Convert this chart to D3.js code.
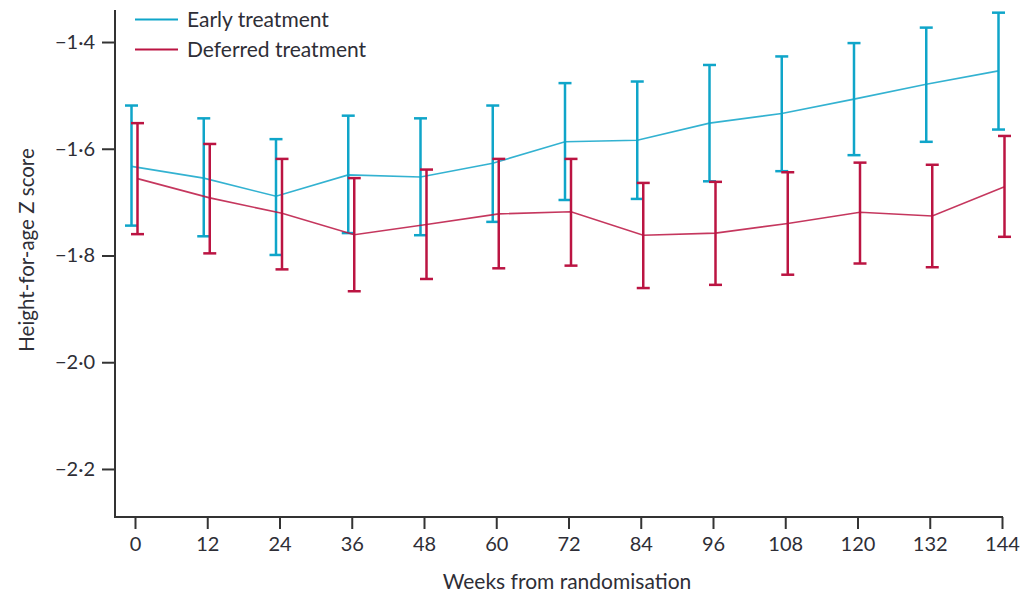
<!DOCTYPE html>
<html>
<head>
<meta charset="utf-8">
<script src="https://cdn.jsdelivr.net/npm/d3@7"></script>
<style>
  body { margin: 0; background: #fff; }
  svg text { font-family: Lato, "Open Sans", sans-serif; fill: #2e2e36; }
</style>
</head>
<body>
<svg width="1027" height="595"></svg>
<script>
const width = 1027;
const height = 595;

const weeks = [0, 12, 24, 36, 48, 60, 72, 84, 96, 108, 120, 132, 144];

// Early treatment: mean and 95% CI
const earlyMean  = [-1.633, -1.655, -1.689, -1.649, -1.653, -1.627, -1.587, -1.584, -1.552, -1.534, -1.507, -1.479, -1.454];
const earlyLower = [-1.744, -1.764, -1.799, -1.758, -1.762, -1.737, -1.696, -1.694, -1.661, -1.642, -1.612, -1.587, -1.564];
const earlyUpper = [-1.519, -1.543, -1.582, -1.538, -1.543, -1.519, -1.477, -1.474, -1.443, -1.427, -1.402, -1.373, -1.345];

// Deferred treatment
const deferMean  = [-1.656, -1.692, -1.721, -1.761, -1.742, -1.722, -1.718, -1.762, -1.758, -1.740, -1.719, -1.726, -1.671];
const deferLower = [-1.760, -1.796, -1.826, -1.867, -1.844, -1.824, -1.819, -1.861, -1.855, -1.836, -1.815, -1.822, -1.765];
const deferUpper = [-1.552, -1.591, -1.619, -1.655, -1.639, -1.619, -1.619, -1.664, -1.662, -1.644, -1.626, -1.630, -1.576];

const yTicks = [-1.4, -1.6, -1.8, -2.0, -2.2];

const blue = "#0fa5c9";
const red = "#bb1442";

const svg = d3.select("svg");

const x = d3.scaleLinear().domain([0, 144]).range([135, 1002]);
const y = d3.scaleLinear().domain([-2.29, -1.34]).range([517, 10]);

const axisLeft = 115;
const axisBottom = 517;

const fmt = v => (v < 0 ? "\u2212" : "") + Math.abs(v).toFixed(1).replace(".", "\u00b7");

// ---------- axes ----------
const gy = svg.append("g").attr("transform", `translate(${axisLeft},0)`)
    .call(d3.axisLeft(y).tickValues(yTicks).tickSize(13).tickPadding(7).tickFormat(fmt));
gy.select(".domain").remove();
gy.selectAll(".tick line").attr("stroke", "#333").attr("stroke-width", 2);
gy.selectAll(".tick text").attr("font-size", 20).attr("fill", "#2e2e36");

const gx = svg.append("g").attr("transform", `translate(0,${axisBottom})`)
    .call(d3.axisBottom(x).tickValues(weeks).tickSize(12).tickPadding(8));
gx.select(".domain").remove();
gx.selectAll(".tick line").attr("stroke", "#333").attr("stroke-width", 2);
gx.selectAll(".tick text").attr("font-size", 20).attr("fill", "#2e2e36");

svg.append("path")
    .attr("d", `M${axisLeft},10V${axisBottom}H${x(144) + 1}`)
    .attr("fill", "none")
    .attr("stroke", "#333")
    .attr("stroke-width", 2);

svg.append("text")
    .attr("x", 567).attr("y", 589)
    .attr("text-anchor", "middle")
    .attr("font-size", 21)
    .text("Weeks from randomisation");

svg.append("text")
    .attr("transform", "translate(34,250) rotate(-90)")
    .attr("text-anchor", "middle")
    .attr("font-size", 20.5)
    .text("Height-for-age Z score");

// ---------- series ----------
const series = [
    { name: "Early treatment", color: blue, dx: -3.5, mean: earlyMean, lo: earlyLower, hi: earlyUpper },
    { name: "Deferred treatment", color: red, dx: 2.5, mean: deferMean, lo: deferLower, hi: deferUpper }
];

series.forEach(s => {
    const pts = weeks.map((w, i) => ({ w, m: s.mean[i], lo: s.lo[i], hi: s.hi[i] }));

    svg.append("path")
        .datum(pts)
        .attr("fill", "none")
        .attr("stroke", s.color)
        .attr("stroke-width", 1.6)
        .attr("stroke-opacity", 0.85)
        .attr("d", d3.line().x(d => x(d.w) + s.dx).y(d => y(d.m)));

    const g = svg.append("g").attr("stroke", s.color).attr("stroke-width", 2.5);
    g.selectAll("line.bar").data(pts).enter().append("line")
        .attr("x1", d => x(d.w) + s.dx).attr("x2", d => x(d.w) + s.dx)
        .attr("y1", d => y(d.hi)).attr("y2", d => y(d.lo));
    g.selectAll("line.capTop").data(pts).enter().append("line")
        .attr("x1", d => x(d.w) + s.dx - 6.5).attr("x2", d => x(d.w) + s.dx + 6.5)
        .attr("y1", d => y(d.hi)).attr("y2", d => y(d.hi));
    g.selectAll("line.capBot").data(pts).enter().append("line")
        .attr("x1", d => x(d.w) + s.dx - 6.5).attr("x2", d => x(d.w) + s.dx + 6.5)
        .attr("y1", d => y(d.lo)).attr("y2", d => y(d.lo));
});

// ---------- legend ----------
const legend = svg.append("g").selectAll("g").data(series).enter().append("g")
    .attr("transform", (d, i) => `translate(135,${19.5 + i * 30})`);
legend.append("line")
    .attr("x1", 0).attr("x2", 43)
    .attr("stroke", d => d.color).attr("stroke-width", 2);
legend.append("text")
    .attr("x", 52).attr("y", 7)
    .attr("font-size", 21)
    .text(d => d.name);
</script>
</body>
</html>
